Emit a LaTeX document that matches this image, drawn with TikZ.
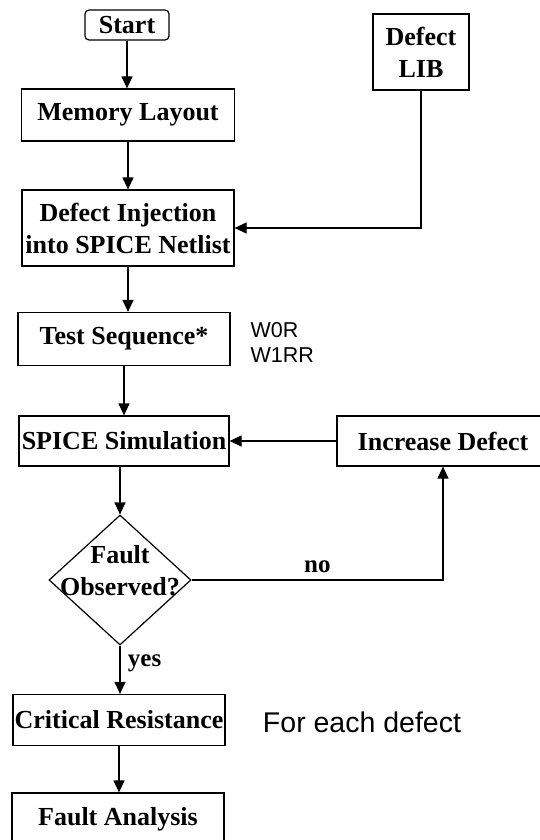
\documentclass[tikz,border=0pt]{standalone}
\usepackage{fontspec}
\setmainfont{Liberation Serif}
\setsansfont{Liberation Sans}
\usetikzlibrary{shapes.geometric,arrows.meta}

\begin{document}
\begin{tikzpicture}[x=1pt,y=-1pt,
    box/.style={draw, line width=1.2pt, inner sep=0pt, align=center,
        font=\fontsize{26}{32}\selectfont\bfseries},
    decision/.style={draw, diamond, line width=1.2pt, inner sep=0pt,
        minimum width=142pt, minimum height=130pt},
    arr/.style={line width=1.2pt, -{Triangle[length=12pt,width=11pt]}},
    lbl/.style={font=\fontsize{25}{30}\selectfont\bfseries},
    note/.style={font=\sffamily\fontsize{21.5}{25}\selectfont, align=left}]
    \useasboundingbox (0,0) rectangle (539,840);
    % Draw the main column
    \node[box, rounded corners=4pt, minimum width=84pt, minimum height=30pt] (start) at (127,25) {Start};
    \node[box, minimum width=213pt, minimum height=52pt] (layout) at (128,115) {Memory Layout};
    \node[box, minimum width=212pt, minimum height=76pt] (inject) at (128,228) {Defect Injection\\into SPICE Netlist};
    \node[box, minimum width=212pt, minimum height=53pt] (seq) at (124,339) {Test Sequence*};
    \node[box, minimum width=210pt, minimum height=50pt] (sim) at (124,441) {SPICE Simulation};
    \node[decision, label={[box, draw=none, yshift=9pt]center:{Fault\\Observed?}}] (obs) at (120,580) {};
    \node[box, minimum width=212pt, minimum height=51pt] (crit) at (119,720) {Critical Resistance};
    \node[box, minimum width=212pt, minimum height=52pt] (fa) at (118,819) {Fault Analysis};
    % Draw the side boxes
    \node[box, minimum width=96pt, minimum height=76pt] (lib) at (421,52) {Defect\\LIB};
    \node[box, minimum width=212pt, minimum height=50pt] (inc) at (443,441) {Increase Defect};
    % Notes
    \node[note, anchor=west] (seqnote) at (247,342) {W0R\\W1RR};
    \node[note, font=\sffamily\fontsize{28.5}{34}\selectfont] (each) at (362,722) {For each defect};
    % Draw the flow
    \draw[arr] (start) -- (start |- layout.north);
    \draw[arr] (layout) -- (layout |- inject.north);
    \draw[arr] (inject) -- (inject |- seq.north);
    \draw[arr] (seq) -- (seq |- sim.north);
    \draw[arr] (sim.south -| obs.north) -- (obs.north);
    \draw[arr] (obs.south) -- (obs.south |- crit.north)
    node[lbl, midway, right, xshift=4pt, yshift=6pt] {yes};
    \draw[arr] (crit) -- (crit |- fa.north);
    % Draw the loops back
    \draw[arr] (lib) |- (inject);
    \draw[arr] (inc) -- (sim);
    \draw[arr] (obs.east) -| (inc)
    node[lbl, pos=0.25, above, yshift=3pt] {no};
\end{tikzpicture}
\end{document}
